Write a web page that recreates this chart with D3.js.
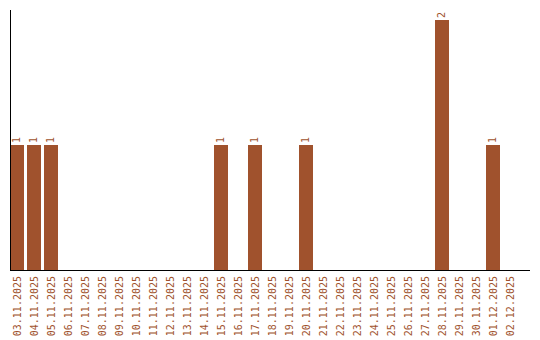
<!DOCTYPE html>
<html>
  <head>
    <meta charset="UTF-8" />
    <script src="https://cdnjs.cloudflare.com/ajax/libs/d3/7.8.5/d3.min.js"></script>
    <style>
      body { margin: 0; background: #fff; }
      text { font-family: "DejaVu Sans Mono", monospace; font-size: 10px; fill: #a0522d; }
    </style>
  </head>
  <body>
    <svg id="chart" width="540" height="340"></svg>
    <script>
      const days = [
        "03.11.2025", "04.11.2025", "05.11.2025", "06.11.2025", "07.11.2025",
        "08.11.2025", "09.11.2025", "10.11.2025", "11.11.2025", "12.11.2025",
        "13.11.2025", "14.11.2025", "15.11.2025", "16.11.2025", "17.11.2025",
        "18.11.2025", "19.11.2025", "20.11.2025", "21.11.2025", "22.11.2025",
        "23.11.2025", "24.11.2025", "25.11.2025", "26.11.2025", "27.11.2025",
        "28.11.2025", "29.11.2025", "30.11.2025", "01.12.2025", "02.12.2025"
      ];
      const counts = [
        1, 1, 1, 0, 0, 0, 0, 0, 0, 0,
        0, 0, 1, 0, 1, 0, 0, 1, 0, 0,
        0, 0, 0, 0, 0, 2, 0, 0, 1, 0
      ];
      const yMax = 2;

      const sienna = "#a0522d";
      const svg = d3.select("#chart");

      // 17px step, 14px bars, bars start right at the y axis
      const x = d3.scaleBand()
        .domain(days)
        .range([10, 520])
        .paddingInner(3 / 17)
        .paddingOuter(1.5 / 17)
        .align(0);
      const y = d3.scaleLinear().domain([0, yMax]).range([270, 20]);

      const data = days.map((d, i) => ({ day: d, n: counts[i] }));

      // bars
      svg.selectAll("rect.bar")
        .data(data.filter(d => d.n > 0))
        .enter()
        .append("rect")
        .attr("class", "bar")
        .attr("x", d => x(d.day))
        .attr("y", d => y(d.n))
        .attr("width", x.bandwidth())
        .attr("height", d => y(0) - y(d.n))
        .attr("fill", sienna);

      // value labels
      svg.selectAll("text.val")
        .data(data.filter(d => d.n > 0))
        .enter()
        .append("text")
        .attr("class", "val")
        .attr("transform", d => `translate(${x(d.day) + x.bandwidth() / 2 + 3},${y(d.n) - 2}) rotate(-90)`)
        .text(d => d.n);

      // axes
      svg.append("line")
        .attr("x1", 10.5).attr("x2", 10.5)
        .attr("y1", 10).attr("y2", 270)
        .attr("stroke", "#000");
      svg.append("line")
        .attr("x1", 10).attr("x2", 530)
        .attr("y1", 270.5).attr("y2", 270.5)
        .attr("stroke", "#000");

      // day labels
      svg.selectAll("text.day")
        .data(days)
        .enter()
        .append("text")
        .attr("class", "day")
        .attr("text-anchor", "end")
        .attr("transform", d => `translate(${x(d) + x.bandwidth() / 2 + 4},276) rotate(-90)`)
        .text(d => d);
    </script>
  </body>
</html>
